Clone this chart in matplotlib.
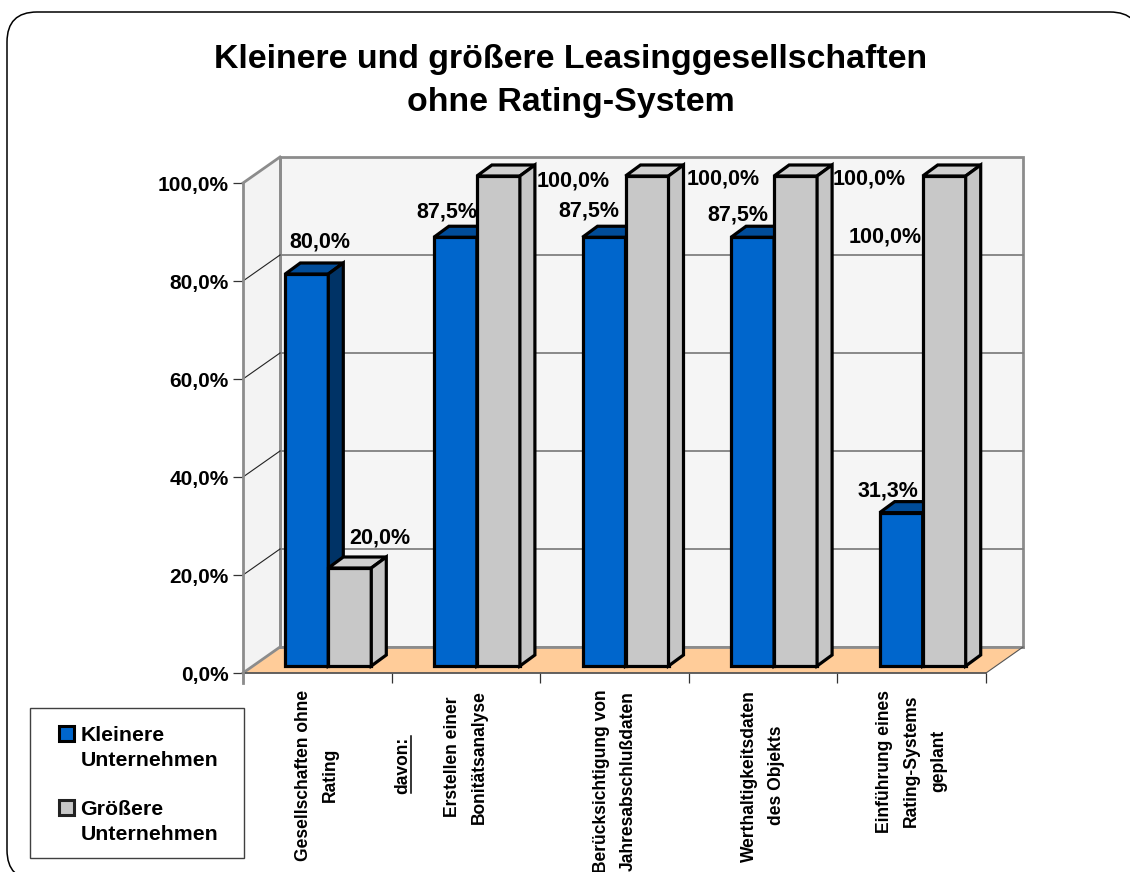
import matplotlib
matplotlib.use("Agg")
import matplotlib.pyplot as plt
from matplotlib.patches import Polygon, Patch, Rectangle, FancyBboxPatch

plt.rcParams['font.family'] = ['Liberation Sans', 'DejaVu Sans']
plt.rcParams['font.weight'] = 'bold'

categories = ["Gesellschaften ohne\nRating",
              "Erstellen einer\nBonitätsanalyse",
              "Berücksichtigung von\nJahresabschlußdaten",
              "Werthaltigkeitsdaten\ndes Objekts",
              "Einführung eines\nRating-Systems\ngeplant"]
kleinere = [80.0, 87.5, 87.5, 87.5, 31.3]
groessere = [20.0, 100.0, 100.0, 100.0, 100.0]
y_ticks = [0, 20, 40, 60, 80, 100]

# label offsets from the bar top, in pixels
off_klein = [(13, 32), (-9, 25), (-15, 26), (-15, 22), (-13, 22)]
off_gross = [(30, 30), (75, -5), (76, -3), (74, -3), (-59, -61)]

W, H = 1130, 872
fig = plt.figure(figsize=(W / 100, H / 100), dpi=100, facecolor="white")

# frame, legend box and title live on a pixel overlay
bg = fig.add_axes([0, 0, 1, 1])
bg.set_xlim(0, W)
bg.set_ylim(H, 0)
bg.axis("off")
bg.add_patch(FancyBboxPatch((37, 42), 1073, 808, boxstyle="round,pad=30,rounding_size=30",
                            fc="white", ec="black", lw=1.1))
bg.add_patch(Rectangle((30, 708), 214, 150, fc="white", ec="#404040", lw=1.0))
bg.text(571, 81, "Kleinere und größere Leasinggesellschaften\nohne Rating-System",
        ha="center", va="center", fontsize=24.4, linespacing=1.48)

ax = fig.add_axes([243 / W, (H - 673) / H, 743 / W, 490 / H])
ax.patch.set_alpha(0)
ax.set_xlim(0, 5)
ax.set_ylim(0, 100)

px_x = 743 / 5
px_y = 4.9
wall_dx, wall_dy = 37 / px_x, 26 / px_y
bar_x, bar_y = 11 / px_x, 7 / px_y
dep_x, dep_y = 15 / px_x, 11 / px_y
bar_w = 43 / px_x


def poly(pts, fc, ec, lw, z):
    ax.add_patch(Polygon(pts, closed=True, fc=fc, ec=ec, lw=lw, zorder=z, clip_on=False,
                         joinstyle="miter"))


# walls and floor
wall_gray = "#8c8c8c"
poly([(0, 100), (wall_dx, 100 + wall_dy), (wall_dx, wall_dy), (0, 0)], "#f3f3f3", "none", 0, 1)
poly([(wall_dx, wall_dy), (5 + wall_dx, wall_dy), (5 + wall_dx, 100 + wall_dy), (wall_dx, 100 + wall_dy)],
     "#f5f5f5", wall_gray, 2, 1)
poly([(0, 0), (5, 0), (5 + wall_dx, wall_dy), (wall_dx, wall_dy)], "#ffcc99", "none", 0, 1.5)
ax.plot([wall_dx, 5 + wall_dx], [wall_dy, wall_dy], color=wall_gray, lw=2, zorder=1.6, clip_on=False)
ax.plot([wall_dx, wall_dx], [wall_dy, 100 + wall_dy], color=wall_gray, lw=2, zorder=1.6, clip_on=False)
ax.plot([0, wall_dx], [0, wall_dy], color=wall_gray, lw=2, zorder=1.6, clip_on=False)
ax.plot([0, wall_dx], [100, 100 + wall_dy], color=wall_gray, lw=2, zorder=1.6, clip_on=False)
ax.plot([5, 5 + wall_dx], [0, wall_dy], color="#555555", lw=0.8, zorder=1.6, clip_on=False)
for t in y_ticks[1:-1]:
    ax.plot([wall_dx, 5 + wall_dx], [t + wall_dy, t + wall_dy], color="#808080", lw=1.3, zorder=1.6, clip_on=False)
    ax.plot([0, wall_dx], [t, t + wall_dy], color="#222222", lw=0.8, zorder=1.6, clip_on=False)
ax.plot([0, 5], [0, 0], color="#555555", lw=1.3, zorder=1.7, clip_on=False)
ax.plot([0, 0], [100, -2], color=wall_gray, lw=2, zorder=1.7, clip_on=False)


def bars3d(centers, values, front, top, side, z):
    ax.bar(centers, values, width=bar_w, bottom=bar_y, color=front, edgecolor="black",
           linewidth=2.3, zorder=z, clip_on=False)
    for c, v in zip(centers, values):
        l, r = c - bar_w / 2, c + bar_w / 2
        t = v + bar_y
        poly([(l, t), (r, t), (r + dep_x, t + dep_y), (l + dep_x, t + dep_y)], top, "black", 2.3, z)
        poly([(r, t), (r + dep_x, t + dep_y), (r + dep_x, bar_y + dep_y), (r, bar_y)], side, "black", 2.3, z)


x_mid = [i + 0.5 for i in range(len(categories))]
x_klein = [m + bar_x - bar_w / 2 for m in x_mid]
x_gross = [m + bar_x + bar_w / 2 for m in x_mid]
bars3d(x_klein, kleinere, "#0066cc", "#004c99", "#003366", 3)
bars3d(x_gross, groessere, "#c8c8c8", "#d0d0d0", "#c6c6c6", 4)

# value labels
for c, v, o in zip(x_klein, kleinere, off_klein):
    ax.annotate(f"{v:.1f}%".replace(".", ","), (c, v + bar_y), xytext=(o[0] * 0.72, o[1] * 0.72),
                textcoords="offset points", ha="center", va="center", fontsize=15.5, zorder=6,
                annotation_clip=False)
for c, v, o in zip(x_gross, groessere, off_gross):
    ax.annotate(f"{v:.1f}%".replace(".", ","), (c, v + bar_y), xytext=(o[0] * 0.72, o[1] * 0.72),
                textcoords="offset points", ha="center", va="center", fontsize=15.5, zorder=6,
                annotation_clip=False)

for s in ax.spines.values():
    s.set_visible(False)
ax.set_yticks(y_ticks)
ax.set_yticklabels([f"{t:.1f}%".replace(".", ",") for t in y_ticks], fontsize=15)
ax.tick_params(axis="y", length=7.2, width=0.9, color="#333333", pad=3)
ax.set_xticks(range(6))
ax.set_xticklabels([])
ax.tick_params(axis="x", which="major", length=7.2, width=0.9, color="#333333")
ax.set_xticks(x_mid, minor=True)
ax.set_xticklabels(categories, minor=True, rotation=90, fontsize=12.65, va="top", ha="center",
                   multialignment="center", linespacing=1.75)
ax.tick_params(axis="x", which="minor", length=0, pad=12)

# "davon:" sits at the start of the second group
bg.text(403, 765, "davon:", rotation=90, ha="center", va="center", fontsize=12.65)
bg.plot([411, 411], [736, 793], color="black", lw=1.1)

leg = fig.legend(handles=[Patch(fc="#0066cc", ec="black", lw=2.2), Patch(fc="#c8c8c8", ec="#222222", lw=2.2)],
                 labels=["Kleinere\nUnternehmen", "Größere\nUnternehmen"],
                 loc="upper left", bbox_to_anchor=(55 / W, 1 - 722 / H), frameon=False, fontsize=15.3,
                 handlelength=0.7, handleheight=0.7, handletextpad=0.3, labelspacing=1.45,
                 borderpad=0.2, borderaxespad=0, alignment="left")
for txt in leg.get_texts():
    txt.set_linespacing(1.35)
# swatches line up with the first text line
for h in leg.legend_handles:
    h.set_y(h.get_y() + 10.5)

fig.savefig("out.png", dpi=100)
